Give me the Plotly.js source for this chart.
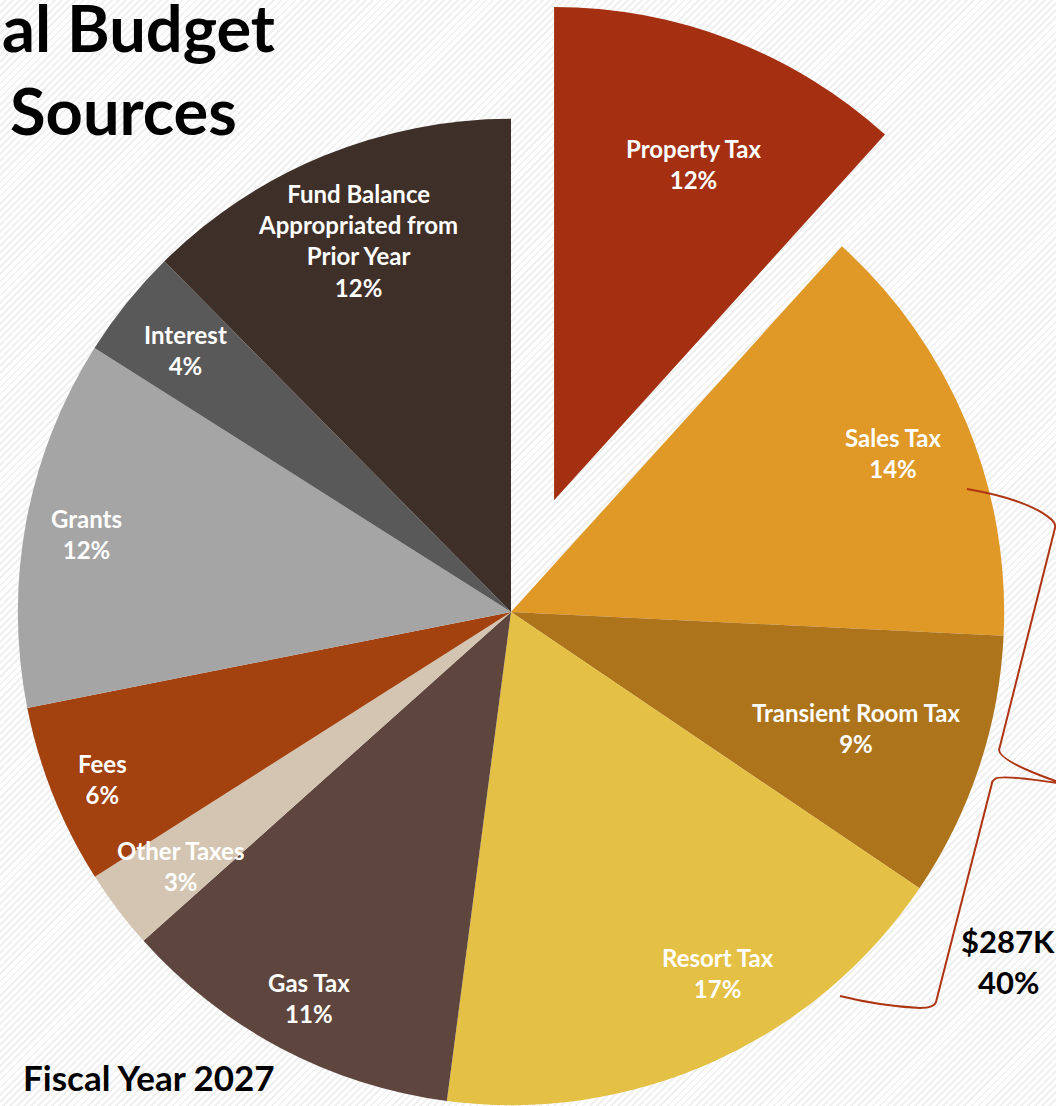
<!DOCTYPE html>
<html>
<head>
<meta charset="utf-8">
<script src="https://cdn.plot.ly/plotly-3.0.1.min.js"></script>
<style>
  html, body { margin:0; padding:0; width:1056px; height:1106px; overflow:hidden;
    background: repeating-linear-gradient(135deg, #ffffff 0px, #ffffff 3px, #f0f0f0 3px, #f0f0f0 5px); }
  #chart { position:absolute; left:-102px; top:-1px; width:1226px; height:1226px; }
</style>
</head>
<body>
<div id="chart"></div>
<script>
// ---- data ----
const categories = ["Property Tax", "Sales Tax", "Transient Room Tax", "Resort Tax", "Gas Tax",
  "Other Taxes", "Fees", "Grants", "Interest", "Fund Balance Appropriated from Prior Year"];
const shares = [11.7, 14.05, 8.7, 17.6, 11.3, 2.6, 5.9, 12.1, 3.6, 12.4];
const shownPercents = [12, 14, 9, 17, 11, 3, 6, 12, 4, 12];
const labelText = ["Property Tax", "Sales Tax", "Transient Room Tax", "Resort Tax", "Gas Tax",
  "Other Taxes", "Fees", "Grants", "Interest", "Fund Balance<br>Appropriated from<br>Prior Year"];
const groupTotal = "$287K";
const groupShare = "40%";
const titleLines = ["al Budget", "Sources"];
const subtitle = "Fiscal Year 2027";

// ---- styling / layout ----
const colors = ["#A42F11", "#E09827", "#AD741B", "#E4C045", "#5E463E",
  "#D3C5B1", "#A3410F", "#A5A5A5", "#595959", "#3F2F29"];
const pulls = [0.243, 0, 0, 0, 0, 0, 0, 0, 0, 0];
// label centers in window pixels
const labelPos = [[693,164],[893,453],[856,728],[718,973],[309,998],[180,866],[102,779],[87,534],[185,350],[358,241]];

const DIV = 1226, OX = -102, OY = -1;
function PX(px){ return (px - OX) / DIV; }
function PY(py){ return 1 - (py - OY) / DIV; }

const FONT = "Lato, 'Open Sans', sans-serif";
const annotations = [];
labelPos.forEach((p, i) => {
  annotations.push({
    xref:'paper', yref:'paper', x:PX(p[0]), y:PY(p[1]), xanchor:'center', yanchor:'middle',
    text:'<b>' + labelText[i] + '<br>' + shownPercents[i] + '%</b>', showarrow:false,
    font:{family:FONT, size:24, color:'#ffffff'}, align:'center'
  });
});
annotations.push({xref:'paper', yref:'paper', x:PX(0), y:PY(27), xanchor:'left', yanchor:'middle',
  text:'<b>' + titleLines[0] + '</b>', showarrow:false, font:{family:FONT, size:65, color:'#000'}});
annotations.push({xref:'paper', yref:'paper', x:PX(8), y:PY(110), xanchor:'left', yanchor:'middle',
  text:'<b>' + titleLines[1] + '</b>', showarrow:false, font:{family:FONT, size:65, color:'#000'}});
annotations.push({xref:'paper', yref:'paper', x:PX(21), y:PY(1077), xanchor:'left', yanchor:'middle',
  text:'<b>' + subtitle + '</b>', showarrow:false, font:{family:FONT, size:35, color:'#000'}});
annotations.push({xref:'paper', yref:'paper', x:PX(1008), y:PY(941), xanchor:'center', yanchor:'middle',
  text:'<b>' + groupTotal + '</b>', showarrow:false, font:{family:FONT, size:31, color:'#000'}});
annotations.push({xref:'paper', yref:'paper', x:PX(1008), y:PY(982), xanchor:'center', yanchor:'middle',
  text:'<b>' + groupShare + '</b>', showarrow:false, font:{family:FONT, size:31, color:'#000'}});

// brace path in window pixels -> paper coords
const braceCmds = [
  ['M',967,489],['Q',1030,500,1052,520],['Q',1056,524,1055,528],['L',999,750],
  ['Q',1000,762,1064,784],['Q',1000,774,995,779],['Q',992,781,992,783],['L',936,1002],
  ['Q',934,1008,920,1008],['Q',880,1006,840,996]
];
const bracePath = braceCmds.map(c => {
  let s = c[0];
  for (let k = 1; k < c.length; k += 2) s += ' ' + PX(c[k]).toFixed(5) + ',' + PY(c[k+1]).toFixed(5);
  return s;
}).join(' ');

const trace = {
  type:'pie', labels:categories, values:shares, sort:false, direction:'clockwise', rotation:0,
  pull:pulls, marker:{colors:colors, line:{width:0}}, textinfo:'none', hoverinfo:'skip',
  showlegend:false, domain:{x:[0,1], y:[0,1]}
};

const layout = {
  width:DIV, height:DIV, margin:{l:0, r:0, t:0, b:0},
  paper_bgcolor:'rgba(0,0,0,0)', plot_bgcolor:'rgba(0,0,0,0)',
  annotations:annotations,
  shapes:[{type:'path', xref:'paper', yref:'paper', path:bracePath,
    line:{color:'#AE3514', width:2}, fillcolor:'rgba(0,0,0,0)'}]
};
Plotly.newPlot('chart', [trace], layout, {staticPlot:true, displayModeBar:false});
</script>
</body>
</html>
